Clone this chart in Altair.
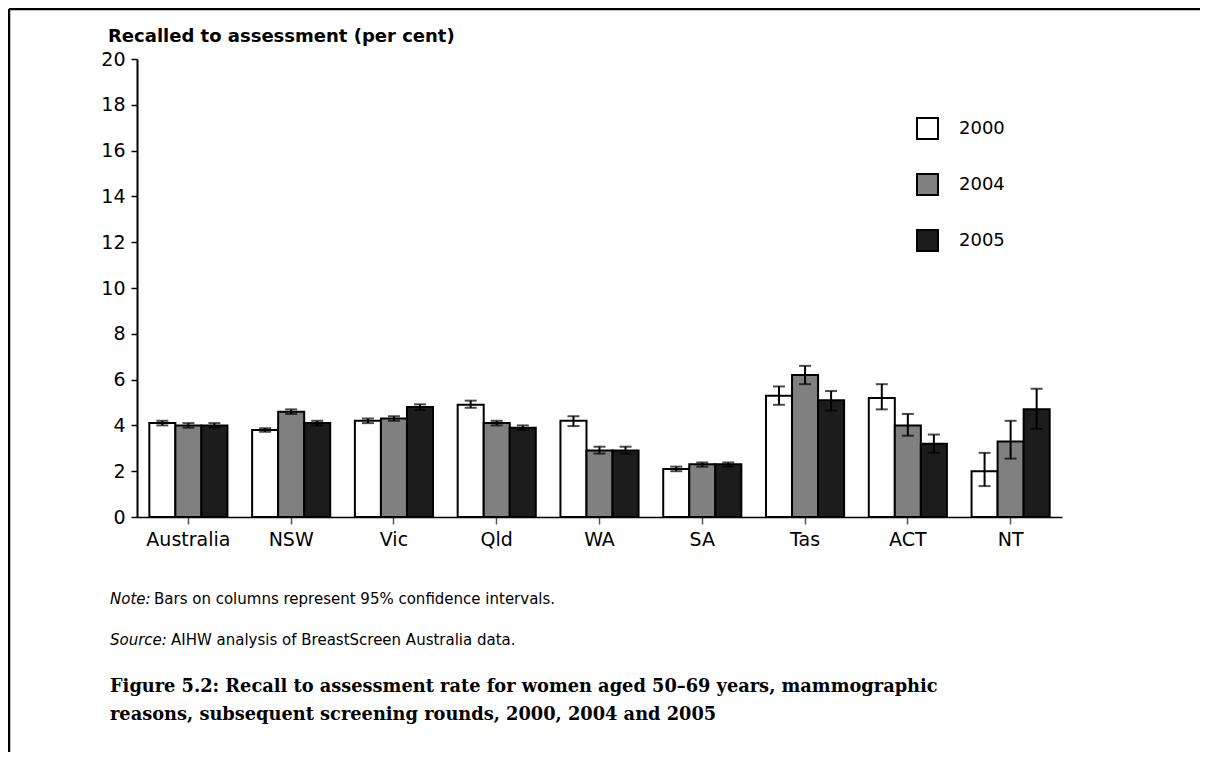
import altair as alt
import pandas as pd

states = ["Australia", "NSW", "Vic", "Qld", "WA", "SA", "Tas", "ACT", "NT"]
years = ["2000", "2004", "2005"]

r2000 = [4.1, 3.8, 4.2, 4.9, 4.2, 2.1, 5.3, 5.2, 2.0]
r2004 = [4.0, 4.6, 4.3, 4.1, 2.9, 2.3, 6.2, 4.0, 3.3]
r2005 = [4.0, 4.1, 4.8, 3.9, 2.9, 2.3, 5.1, 3.2, 4.7]

lo2000 = [4.0, 3.72, 4.1, 4.77, 3.97, 2.0, 4.9, 4.7, 1.35]
hi2000 = [4.2, 3.88, 4.3, 5.08, 4.4, 2.2, 5.7, 5.8, 2.8]
lo2004 = [3.9, 4.5, 4.2, 4.0, 2.77, 2.2, 5.8, 3.55, 2.55]
hi2004 = [4.1, 4.7, 4.4, 4.2, 3.07, 2.38, 6.6, 4.5, 4.2]
lo2005 = [3.9, 4.0, 4.68, 3.8, 2.77, 2.2, 4.65, 2.8, 3.85]
hi2005 = [4.1, 4.2, 4.92, 4.0, 3.07, 2.38, 5.5, 3.6, 5.6]

y_title = "Recalled to assessment (per cent)"
note_label = "Note:"
note_text = "Bars on columns represent 95% confidence intervals."
source_label = "Source:"
source_text = "AIHW analysis of BreastScreen Australia data."
caption1 = "Figure 5.2: Recall to assessment rate for women aged 50\u201369 years, mammographic"
caption2 = "reasons, subsequent screening rounds, 2000, 2004 and 2005"

rows = []
for yr, vals, los, his in [("2000", r2000, lo2000, hi2000),
                           ("2004", r2004, lo2004, hi2004),
                           ("2005", r2005, lo2005, hi2005)]:
    for s, v, lo, hi in zip(states, vals, los, his):
        rows.append({"state": s, "year": yr, "value": v, "lo": lo, "hi": hi})
df = pd.DataFrame(rows)

SANS = "DejaVu Sans"
SERIF = "DejaVu Serif"

x_enc = alt.X("state:N", sort=states, title=None,
              scale=alt.Scale(paddingInner=0.24, paddingOuter=0.12),
              axis=alt.Axis(labelAngle=0, labelFontSize=19, labelFont=SANS,
                            labelColor="black", domainColor="black", domainWidth=1.5,
                            tickColor="#555555", tickSize=7, tickWidth=1.5,
                            labelPadding=6))
xo_enc = alt.XOffset("year:N", sort=years, scale=alt.Scale(paddingInner=0, paddingOuter=0))
y_scale = alt.Scale(domain=[0, 20], nice=False)

bars = alt.Chart(df).mark_bar(stroke="black", strokeWidth=2).encode(
    x=x_enc,
    xOffset=xo_enc,
    y=alt.Y("value:Q", scale=y_scale, title=None,
            axis=alt.Axis(values=list(range(0, 21, 2)), grid=False, labelFontSize=19,
                          labelFont=SANS, labelColor="black", domainColor="black",
                          domainWidth=2, tickColor="black", tickSize=6, tickWidth=1.5,
                          labelPadding=6)),
    fill=alt.Fill("year:N", sort=years,
                  scale=alt.Scale(domain=years, range=["#ffffff", "#808080", "#1c1c1c"]),
                  legend=alt.Legend(title=None, orient="none", legendX=779, legendY=58,
                                    symbolType="square", symbolSize=441,
                                    symbolStrokeColor="black", symbolStrokeWidth=2,
                                    labelFontSize=18, labelFont=SANS, labelColor="black",
                                    labelOffset=20, rowPadding=27)),
)

err = alt.Chart(df).mark_rule(color="black", strokeWidth=2).encode(
    x=alt.X("state:N", sort=states), xOffset=xo_enc,
    y=alt.Y("lo:Q", scale=y_scale), y2="hi:Q")
cap_lo = alt.Chart(df).mark_tick(color="black", thickness=2, size=12).encode(
    x=alt.X("state:N", sort=states), xOffset=xo_enc, y=alt.Y("lo:Q", scale=y_scale))
cap_hi = alt.Chart(df).mark_tick(color="black", thickness=2, size=12).encode(
    x=alt.X("state:N", sort=states), xOffset=xo_enc, y=alt.Y("hi:Q", scale=y_scale))

one = pd.DataFrame({"k": [0]})

def txt(text, x, y, size, font=SANS, weight="normal", style="normal"):
    return alt.Chart(one).mark_text(text=text, align="left", baseline="alphabetic",
                                    fontSize=size, font=font, fontWeight=weight,
                                    fontStyle=style, color="black").encode(
        x=alt.value(x), y=alt.value(y))

title_t = txt(y_title, -29, -17, 18, weight="bold")
note1 = txt(note_label, -27, 545, 15, style="italic")
note2 = txt(note_text, 17, 545, 15)
src1 = txt(source_label, -27, 586, 15, style="italic")
src2 = txt(source_text, 34, 586, 15)
cap1 = txt(caption1, -27, 633, 17.8, font=SERIF, weight="bold")
cap2 = txt(caption2, -27, 661, 17.8, font=SERIF, weight="bold")

border_top = alt.Chart(one).mark_rule(color="black", strokeWidth=2.5).encode(
    x=alt.value(-128), x2=alt.value(1063), y=alt.value(-50))
border_left = alt.Chart(one).mark_rule(color="black", strokeWidth=2.5).encode(
    x=alt.value(-128), y=alt.value(-50), y2=alt.value(706))

chart = alt.layer(bars, err, cap_lo, cap_hi, title_t, note1, note2, src1, src2,
                  cap1, cap2, border_top, border_left).properties(
    width=925, height=458,
    autosize=alt.AutoSizeParams(type="none"),
    padding={"left": 129, "top": 51, "right": 138, "bottom": 235},
    background="white",
).configure_view(stroke=None, strokeWidth=0)

chart.save("out.html", embed_options={"renderer": "svg", "actions": False})
